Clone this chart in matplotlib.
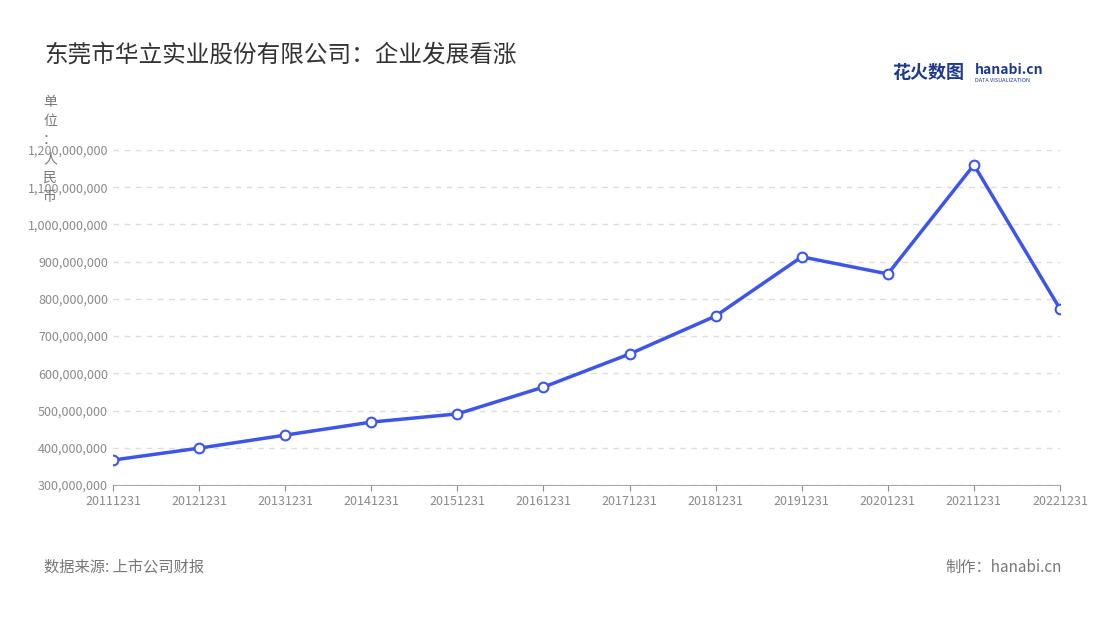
import matplotlib.pyplot as plt
import matplotlib.ticker as mticker

plt.rcParams['font.family'] = ['Noto Sans CJK SC', 'DejaVu Sans']

# 数据
years = ["20111231", "20121231", "20131231", "20141231", "20151231", "20161231",
         "20171231", "20181231", "20191231", "20201231", "20211231", "20221231"]
values = [367e6, 399e6, 434e6, 469e6, 491e6, 563e6,
          652e6, 754e6, 913e6, 867e6, 1160e6, 773e6]
yticks = [300e6, 400e6, 500e6, 600e6, 700e6, 800e6, 900e6, 1000e6, 1100e6, 1200e6]

fig = plt.figure(figsize=(11, 6.2), dpi=100)
ax = fig.add_axes([113/1100, 1-485/620, (1060-113)/1100, (485-150)/620])

ax.plot(range(len(years)), values, color="#3d55e8", lw=2.5, marker="o", ms=7,
        mfc="white", mec="#3d55e8", mew=1.5, zorder=3)

ax.set_xlim(0, len(years)-1)
ax.set_ylim(300e6, 1200e6)
ax.set_xticks(range(len(years)))
ax.set_xticklabels(years)
ax.set_yticks(yticks)
ax.yaxis.set_major_formatter(mticker.FuncFormatter(lambda v, p: f"{int(v):,}"))
ax.tick_params(colors="#8a8a8a", labelsize=9, length=4)
ax.tick_params(axis="y", length=0)
ax.grid(axis="y", ls=(0, (4, 4)), color="#dddddd", lw=1)
for s in ["top", "right", "left"]:
    ax.spines[s].set_visible(False)
ax.spines["bottom"].set_color("#aaaaaa")

fig.text(44/1100, 1-55/620, "东莞市华立实业股份有限公司：企业发展看涨", fontsize=17, color="#333333", va="center")
fig.text(50/1100, 1-95/620, "单\n位\n：\n人\n民\n币", fontsize=10, color="#777777", va="top", ha="center", linespacing=1.45)
fig.text(44/1100, 1-567/620, "数据来源: 上市公司财报", fontsize=11, color="#777777", va="center")
fig.text(1062/1100, 1-567/620, "制作：hanabi.cn", fontsize=11, color="#777777", va="center", ha="right")
fig.text(892/1100, 1-72/620, "花火数图", fontsize=13, color="#1f3a8a", va="center", weight="bold")
fig.text(975/1100, 1-70/620, "hanabi.cn", fontsize=10, color="#1f3a8a", va="center", weight="bold")
fig.text(975/1100, 1-80/620, "DATA VISUALIZATION", fontsize=4, color="#1f3a8a", va="center")

fig.savefig("out.png", dpi=100)
